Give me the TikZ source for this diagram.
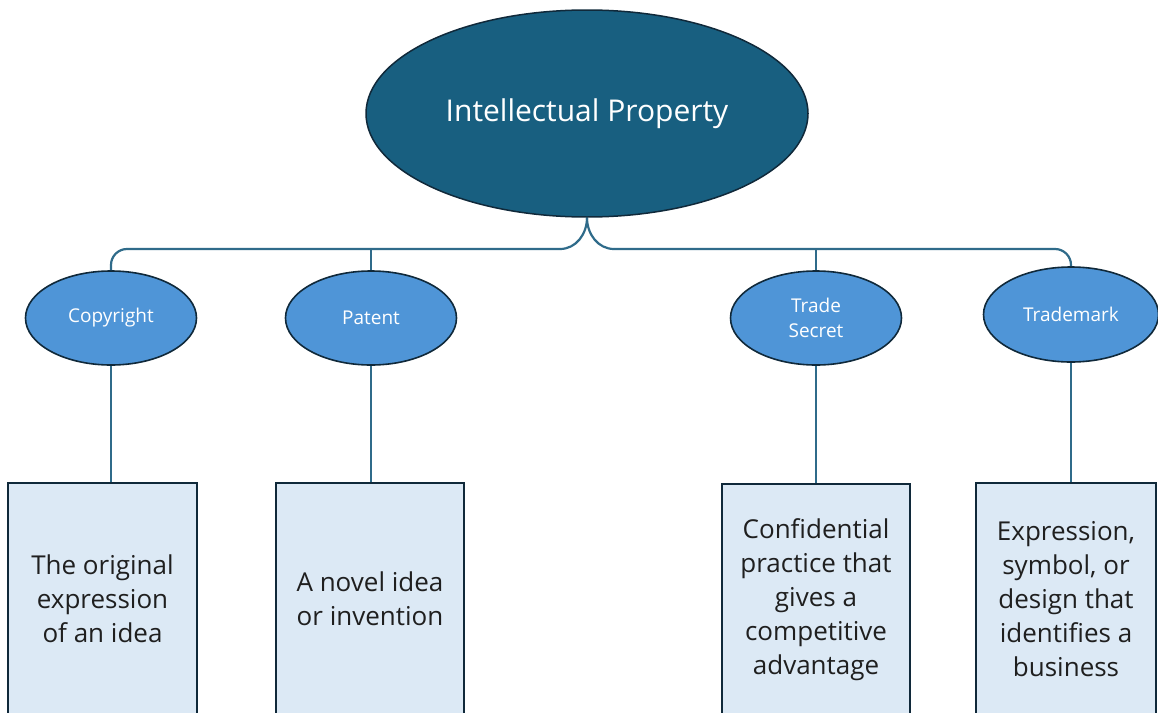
\documentclass[tikz,border=0pt]{standalone}
\usepackage{fontspec}
\setmainfont{Open Sans}
\usetikzlibrary{shapes.geometric}
\definecolor{ipdark}{HTML}{185F80}
\definecolor{ipmid}{HTML}{4F95D7}
\definecolor{iplight}{HTML}{DCE9F5}
\definecolor{ipline}{HTML}{2F6B8A}
\definecolor{ipedge}{HTML}{10293A}
\begin{document}
\begin{tikzpicture}[x=1pt,y=-1pt,
  root/.style={ellipse, draw=ipedge, line width=1.5pt, fill=ipdark,
    minimum width=442pt, minimum height=207pt, inner sep=0pt,
    text=white, font=\fontsize{30}{34}\selectfont},
  kind/.style={ellipse, draw=ipedge, line width=1.6pt, fill=ipmid,
    minimum width=171pt, minimum height=94pt, inner sep=0pt,
    text=white, align=center, font=\fontsize{19}{25}\selectfont},
  descbox/.style={rectangle, draw=ipedge, line width=2.4pt, fill=iplight,
    minimum height=232pt, inner sep=0pt, text=black!88, align=center,
    font=\fontsize{26}{34}\selectfont},
  conn/.style={draw=ipline, line width=2.2pt}]
\useasboundingbox (0,0) rectangle (1158,712);
\clip (0,0) rectangle (1158,712);

% root and the four kinds of protection
\node[root] (ip) at (587,113.5) {Intellectual Property};
\node[kind] (cr) at (111,318) {Copyright};
\node[kind] (pt) at (371,318) {Patent};
\node[kind] (ts) at (816,318) {Trade\\Secret};
\node[kind, minimum width=175pt, minimum height=95pt] (tm) at (1071,314.5) {Trademark};

% descriptions, running off the bottom edge
\node[descbox, minimum width=189pt] (crd) at (102.5,599) {The original\\expression\\of an idea};
\node[descbox, minimum width=188pt] (ptd) at (370,599) {A novel idea\\or invention};
\node[descbox, minimum width=188pt] (tsd) at (816,600) {Confidential\\practice that\\gives a\\competitive\\advantage};
\node[descbox, minimum width=180pt] (tmd) at (1066,599) {Expression,\\symbol, or\\design that\\identifies a\\business};

% branching bar under the root
\coordinate (hl) at (560,249);
\coordinate (hr) at (614,249);
\draw[conn] (ip.south) to[out=-90,in=0] (hl);
\draw[conn] (ip.south) to[out=-90,in=180] (hr);
\draw[conn, rounded corners=16pt] (hl) -- (cr.north |- hl) -- (cr.north);
\draw[conn] (pt.north) -- (pt.north |- hl);
\draw[conn] (ts.north) -- (ts.north |- hr);
\draw[conn, rounded corners=16pt] (hr) -- (tm.north |- hr) -- (tm.north);

% kind to description
\draw[conn] (cr.south) -- (cr.south |- crd.north);
\draw[conn] (pt.south) -- (pt.south |- ptd.north);
\draw[conn] (ts.south) -- (ts.south |- tsd.north);
\draw[conn] (tm.south) -- (tm.south |- tmd.north);
\end{tikzpicture}
\end{document}
